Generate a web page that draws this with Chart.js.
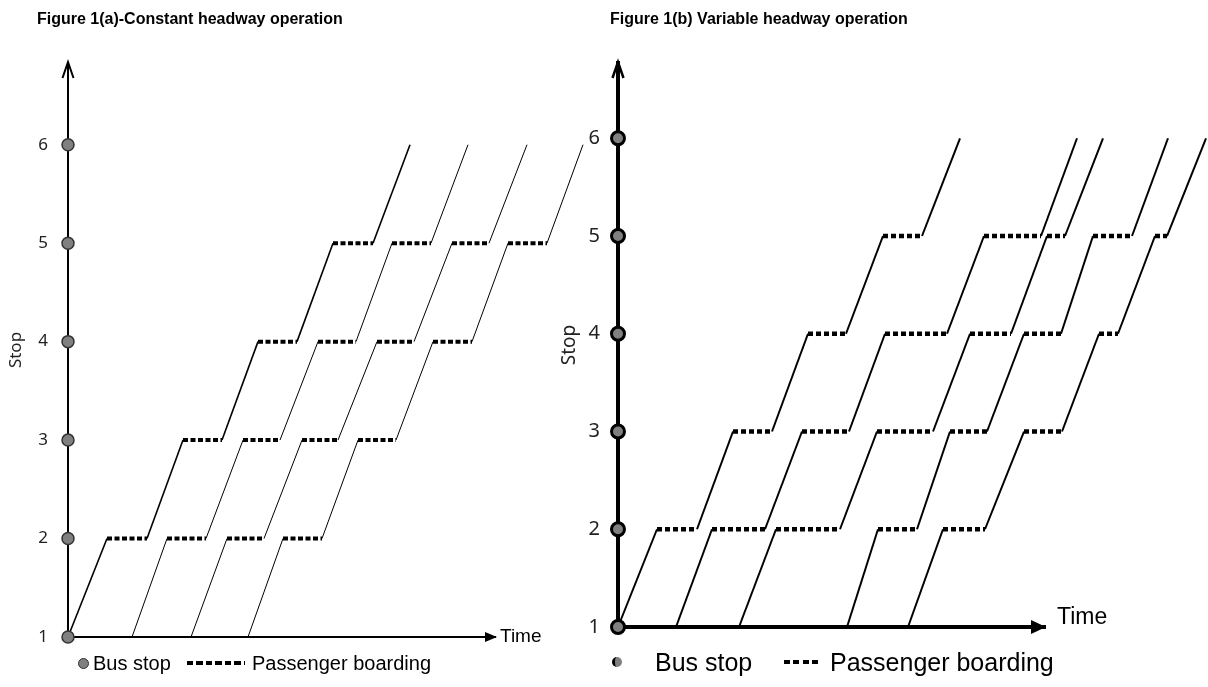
<!DOCTYPE html>
<html>
<head>
<meta charset="utf-8">
<title>Figure 1 – headway operation</title>
<script src="https://cdn.jsdelivr.net/npm/chart.js@4.4.1/dist/chart.umd.min.js"></script>
<style>
  body { margin: 0; background: #fff; width: 1208px; height: 687px; position: relative; overflow: hidden;
         font-family: "Liberation Sans", Arial, sans-serif; }
  canvas { position: absolute; top: 0; }
  #chartA { left: 0; }
  #chartB { left: 550px; }
  .txt { position: absolute; white-space: nowrap; color: #000; line-height: 1; }
  .title { font-weight: bold; font-size: 16px; top: 11px; }
  .dot { position: absolute; border-radius: 50%; background: #808080; box-sizing: border-box; }
  .dash { position: absolute; height: 4px;
          background: repeating-linear-gradient(to right, #000 0 6px, transparent 6px 9.5px); }
</style>
</head>
<body>
<canvas id="chartA" width="600" height="687"></canvas>
<canvas id="chartB" width="658" height="687"></canvas>

<div class="txt title" style="left:37px">Figure 1(a)-Constant headway operation</div>
<div class="txt title" style="left:610px">Figure 1(b) Variable headway operation</div>

<!-- legend (a) -->
<div class="dot" style="left:78px;top:658px;width:11px;height:11px;border:1px solid #333"></div>
<div class="txt" style="left:93px;top:653px;font-size:20px">Bus stop</div>
<div class="dash" style="left:187px;top:661px;width:58px"></div>
<div class="txt" style="left:252px;top:653px;font-size:20px">Passenger boarding</div>

<!-- legend (b) -->
<div class="dot" style="left:612px;top:657px;width:10px;height:10px;border-left:3px solid #000"></div>
<div class="txt" style="left:655px;top:650px;font-size:25px">Bus stop</div>
<div class="dash" style="left:784px;top:660px;width:37px"></div>
<div class="txt" style="left:830px;top:650px;font-size:25px">Passenger boarding</div>

<script>
// ----------------------------
// Data
// ----------------------------
const stopTicks = [1, 2, 3, 4, 5, 6];
// every trajectory visits: stop1, arrive2, leave2, arrive3, leave3, ... arrive6
const stopSequence = [1, 2, 2, 3, 3, 4, 4, 5, 5, 6];

// Figure 1(a) – time at each point of stopSequence
const constantBus1 = [0, 3.9, 7.9, 11.5, 15.4, 19.0, 22.9, 26.5, 30.5, 34.2];
const constantBus2 = [6.4, 9.9, 13.8, 17.5, 21.2, 25.0, 28.8, 32.4, 36.3, 40.0];
const constantBus3 = [12.3, 15.9, 19.6, 23.4, 27.0, 30.9, 34.6, 38.4, 42.1, 45.9];
const constantBus4 = [18.0, 21.5, 25.4, 29.0, 32.8, 36.5, 40.4, 44.0, 47.9, 51.5];

// Figure 1(b)
const variableBus1 = [0, 3.9, 7.9, 11.5, 15.4, 19.0, 22.8, 26.5, 30.4, 34.2];
const variableBus2 = [5.8, 9.4, 14.7, 18.4, 23.1, 26.7, 32.9, 36.6, 42.3, 45.9];
const variableBus3 = [12.1, 15.8, 22.2, 25.9, 31.5, 35.2, 39.3, 42.9, 44.7, 48.5];
const variableBus4 = [22.9, 26.0, 29.9, 33.2, 36.9, 40.6, 44.3, 47.5, 51.4, 55.0];
const variableBus5 = [29.0, 32.5, 36.7, 40.6, 44.4, 48.1, 50.0, 53.7, 54.9, 58.8];

const constantBuses = [constantBus1, constantBus2, constantBus3, constantBus4];
const variableBuses = [variableBus1, variableBus2, variableBus3, variableBus4, variableBus5];

// ----------------------------
// Helpers
// ----------------------------
function isDwell(ctx) {
  return ctx.p0.parsed.y === ctx.p1.parsed.y;
}

function busDataset(times, lineWidth, cfg) {
  return {
    data: times.map((t, i) => ({ x: t, y: stopSequence[i] })),
    showLine: true,
    borderColor: '#000',
    borderWidth: lineWidth,
    pointRadius: 0,
    clip: false,
    segment: {
      borderDash: ctx => isDwell(ctx) ? cfg.dash : undefined,
      borderWidth: ctx => isDwell(ctx) ? cfg.dashWidth : undefined
    }
  };
}

function stopDataset(cfg) {
  return {
    data: stopTicks.map(s => ({ x: 0, y: s })),
    showLine: false,
    pointRadius: cfg.stopRadius,
    pointBackgroundColor: '#808080',
    pointBorderColor: cfg.stopBorderColor,
    pointBorderWidth: cfg.stopBorder,
    clip: false
  };
}

// arrow heads on both axes + "Time" label
const axisArrows = {
  id: 'axisArrows',
  afterDraw(chart, args, o) {
    const { ctx, chartArea: a } = chart;
    ctx.save();
    ctx.strokeStyle = '#000';
    ctx.fillStyle = '#000';
    ctx.lineWidth = o.chevronWidth;
    ctx.beginPath();
    ctx.moveTo(a.left - 5.5, a.top + 15);
    ctx.lineTo(a.left, a.top - 1);
    ctx.lineTo(a.left + 5.5, a.top + 15);
    ctx.stroke();

    ctx.beginPath();
    ctx.moveTo(a.right + o.tip, a.bottom);
    ctx.lineTo(a.right + o.tip - o.len, a.bottom - o.half);
    ctx.lineTo(a.right + o.tip - o.len, a.bottom + o.half);
    ctx.closePath();
    ctx.fill();

    ctx.font = o.timeSize + 'px "Liberation Sans", Arial, sans-serif';
    ctx.textBaseline = 'middle';
    ctx.textAlign = 'left';
    ctx.fillText('Time', a.right + o.timeDx, a.bottom + o.timeDy);
    ctx.restore();
  }
};

function makeChart(id, buses, cfg) {
  return new Chart(document.getElementById(id), {
    type: 'scatter',
    data: {
      datasets: [stopDataset(cfg), ...buses.map((b, i) => busDataset(b, cfg.lineWidths[i], cfg))]
    },
    options: {
      responsive: false,
      animation: false,
      devicePixelRatio: 1,
      layout: { padding: cfg.padding },
      plugins: {
        legend: { display: false },
        tooltip: { enabled: false },
        axisArrows: cfg.arrows
      },
      scales: {
        x: {
          type: 'linear',
          bounds: 'data',
          // range set here (not via min/max) so trajectories past the arrow are still drawn
          afterDataLimits: s => { s.min = 0; s.max = cfg.xMax; },
          ticks: { display: false },
          grid: { display: false },
          border: { color: '#000', width: cfg.axisWidth },
          afterFit: s => { s.height = 0; }
        },
        y: {
          type: 'linear',
          min: 1,
          max: cfg.yMax,
          afterBuildTicks: s => { s.ticks = stopTicks.map(v => ({ value: v })); },
          ticks: {
            padding: cfg.tickPadding,
            color: '#222',
            font: { family: '"Noto Sans", sans-serif', size: cfg.tickSize }
          },
          grid: { display: false },
          border: { color: '#000', width: cfg.axisWidth },
          title: {
            display: true,
            text: 'Stop',
            color: '#222',
            padding: cfg.titlePad,
            font: { family: '"Noto Sans", sans-serif', size: cfg.titleSize }
          },
          afterFit: s => { s.width = 68; }
        }
      }
    },
    plugins: [axisArrows]
  });
}

// ----------------------------
// Charts
// ----------------------------
makeChart('chartA', constantBuses, {
  xMax: 42.7, yMax: 6.83,
  padding: { top: 63, bottom: 50, left: 0, right: 105 },
  axisWidth: 2, tickSize: 17, tickPadding: 12, titleSize: 17, titlePad: 6,
  stopRadius: 6, stopBorder: 1.5, stopBorderColor: '#333',
  lineWidths: [1.6, 1, 1, 1], dash: [5, 2.5], dashWidth: 4,
  arrows: { chevronWidth: 2, tip: 2, len: 12, half: 5, timeSize: 19, timeDx: 5, timeDy: 0 }
});

makeChart('chartB', variableBuses, {
  xMax: 42.7, yMax: 6.77,
  padding: { top: 63, bottom: 60, left: 0, right: 163 },
  axisWidth: 4, tickSize: 20, tickPadding: 10, titleSize: 19, titlePad: 8,
  stopRadius: 6.5, stopBorder: 3, stopBorderColor: '#000',
  lineWidths: [2, 2, 2, 2, 2], dash: [5, 3], dashWidth: 4.5,
  arrows: { chevronWidth: 2.5, tip: 1, len: 15, half: 7, timeSize: 23, timeDx: 12, timeDy: -9 }
});
</script>
</body>
</html>
